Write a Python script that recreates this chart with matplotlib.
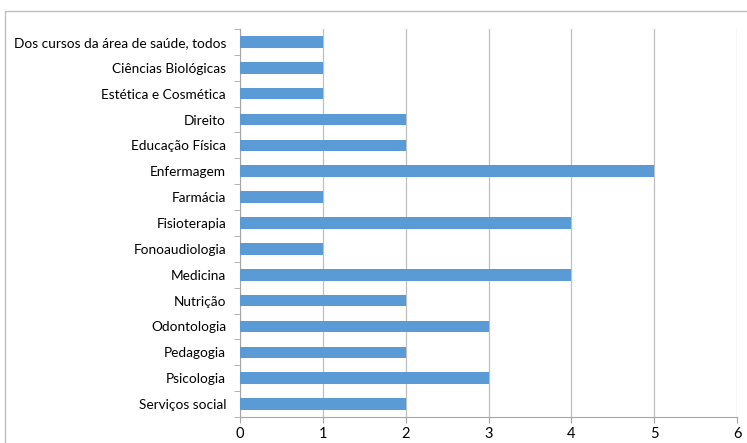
import matplotlib
matplotlib.use("Agg")
import matplotlib.pyplot as plt
from matplotlib.patches import Rectangle

# categories top to bottom
courses = [
    "Dos cursos da área de saúde, todos",
    "Ciências Biológicas",
    "Estética e Cosmética",
    "Direito",
    "Educação Física",
    "Enfermagem",
    "Farmácia",
    "Fisioterapia",
    "Fonoaudiologia",
    "Medicina",
    "Nutrição",
    "Odontologia",
    "Pedagogia",
    "Psicologia",
    "Serviços social",
]
counts = [1, 1, 1, 2, 2, 5, 1, 4, 1, 4, 2, 3, 2, 3, 2]
x_ticks = [0, 1, 2, 3, 4, 5, 6]

plt.rcParams['font.family'] = ['Lato', 'DejaVu Sans']

fig = plt.figure(figsize=(7.47, 4.43), dpi=100)
ax = fig.add_axes([240 / 747, 1 - 417 / 443, 497 / 747, 388 / 443])

pos = list(range(len(courses)))
ax.barh(pos, counts, height=0.45, color="#5B9BD5", zorder=3)

ax.set_ylim(len(courses) - 0.5, -0.5)
ax.set_xlim(0, 6)
ax.set_xticks(x_ticks)
ax.set_xticklabels([str(t) for t in x_ticks], fontsize=10.5)
ax.set_yticks(pos)
ax.set_yticklabels(courses, fontsize=9.8)
ax.tick_params(axis='y', length=0, pad=10)
ax.set_yticks([p - 0.5 for p in pos] + [len(courses) - 0.5], minor=True)
ax.tick_params(axis='y', which='minor', length=4, color="#A6A6A6")
ax.tick_params(axis='x', length=4, color="#A6A6A6", pad=3)

ax.grid(axis='x', color="#BFBFBF", linewidth=0.9, zorder=0)
for s in ['top', 'right']:
    ax.spines[s].set_visible(False)
for s in ['left', 'bottom']:
    ax.spines[s].set_color("#A6A6A6")

# outer chart border
fig.patches.append(Rectangle((5 / 747, -0.1), 1.1, 1 - 11 / 443 + 0.1,
                             transform=fig.transFigure, fill=False,
                             edgecolor="#BFBFBF", linewidth=1))

fig.savefig("out.png", dpi=100)
